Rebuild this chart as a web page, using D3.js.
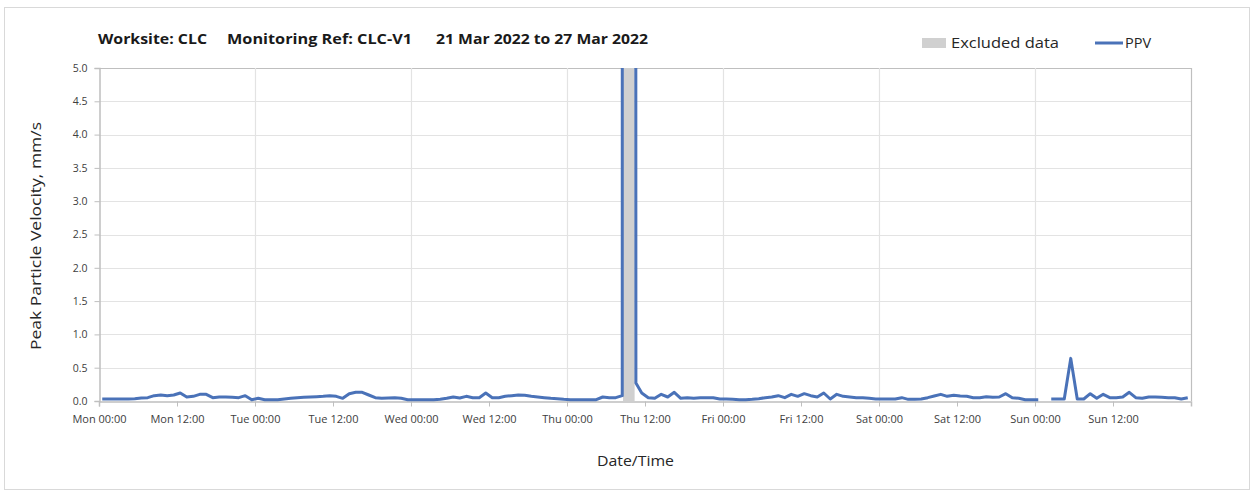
<!DOCTYPE html>
<html><head><meta charset="utf-8">
<script src="https://cdn.jsdelivr.net/npm/d3@7"></script>
<style>
html,body{margin:0;padding:0;background:#fff;}
svg{display:block;font-family:"Open Sans","DejaVu Sans",sans-serif;}
</style></head>
<body>
<svg id="chart" width="1253" height="495"></svg>
<script>
// ---- Data (hourly readings plotted at HH:30) ----
const dayNames = ["Mon","Tue","Wed","Thu","Fri","Sat","Sun"];
const monValues = [0.03,0.03,0.03,0.03,0.03,0.035,0.045,0.05,0.08,0.09,0.08,0.09,0.12,0.06,0.07,0.1,0.1,0.05,0.06,0.06,0.055,0.05,0.08,0.02];
const tueValues = [0.04,0.02,0.02,0.02,0.03,0.04,0.05,0.055,0.06,0.065,0.07,0.08,0.07,0.04,0.11,0.13,0.13,0.09,0.05,0.04,0.045,0.05,0.04,0.02];
const wedValues = [0.02,0.02,0.02,0.02,0.025,0.04,0.06,0.045,0.07,0.05,0.05,0.12,0.05,0.05,0.07,0.08,0.09,0.085,0.07,0.06,0.05,0.04,0.035,0.025];
const thuValues = [0.02,0.02,0.02,0.02,0.02,0.06,0.05,0.05,null,null,null,0.12,0.05,0.04,0.1,0.06,0.13,0.04,0.05,0.04,0.05,0.05,0.05,0.03];
const friValues = [0.03,0.025,0.02,0.02,0.025,0.035,0.05,0.06,0.08,0.05,0.1,0.07,0.11,0.08,0.06,0.12,0.03,0.1,0.07,0.06,0.05,0.05,0.04,0.03];
const satValues = [0.03,0.03,0.03,0.05,0.025,0.025,0.03,0.05,0.075,0.1,0.07,0.085,0.075,0.07,0.05,0.05,0.065,0.055,0.06,0.11,0.05,0.04,0.02,0.02];
const sunValues = [0.02,null,0.03,0.03,0.03,0.64,0.03,0.03,0.11,0.04,0.1,0.05,0.05,0.06,0.13,0.05,0.04,0.06,0.06,0.055,0.05,0.05,0.03,0.05];
// Thursday event (hours from Mon 00:00) - values off the chart
const eventTimes  = [80.5, 80.55, 82.45, 82.6];
const eventValues = [0.08, 60, 60, 0.27];
// Excluded data window (hours from Mon 00:00)
const excludedStart = 80.62;
const excludedEnd = 82.4;
// Axis ticks
const yTicks = [0,0.5,1,1.5,2,2.5,3,3.5,4,4.5,5];
const xTickHours = [0,12,24,36,48,60,72,84,96,108,120,132,144,156];
const xTickLabels = ["Mon 00:00","Mon 12:00","Tue 00:00","Tue 12:00","Wed 00:00","Wed 12:00","Thu 00:00","Thu 12:00","Fri 00:00","Fri 12:00","Sat 00:00","Sat 12:00","Sun 00:00","Sun 12:00"];
const dayGridHours = [24,48,72,96,120,144,168];

// ---- Build points ----
const days = [monValues,tueValues,wedValues,thuValues,friValues,satValues,sunValues];
let pts = [];
days.forEach((arr,d)=>arr.forEach((v,k)=>{
  const t = d*24+k+0.5;
  if (v===null && t>=eventTimes[0] && t<=eventTimes[eventTimes.length-1]) return;
  pts.push({t, v});
}));
eventTimes.forEach((t,i)=>pts.push({t, v:eventValues[i]}));
pts.sort((a,b)=>a.t-b.t);

// ---- Layout ----
const svg = d3.select("#chart");
const L=99, R=1191, T=68, B=401;
const x = d3.scaleLinear().domain([0,168]).range([L,R]);
const y = d3.scaleLinear().domain([0,5]).range([B,T]);

// outer border
svg.append("rect").attr("x",4.5).attr("y",7.5).attr("width",1245).attr("height",482)
  .attr("fill","#fff").attr("stroke","#d9d9d9").attr("stroke-width",1);

// horizontal gridlines
svg.append("g").selectAll("line").data(yTicks.slice(1)).join("line")
  .attr("x1",L).attr("x2",R).attr("y1",d=>Math.round(y(d))+0.5).attr("y2",d=>Math.round(y(d))+0.5)
  .attr("stroke",d=>d===5?"#bfbfbf":"#e3e3e3").attr("stroke-width",1.2);
// vertical day gridlines
svg.append("g").selectAll("line").data(dayGridHours).join("line")
  .attr("x1",d=>Math.round(x(d))+0.5).attr("x2",d=>Math.round(x(d))+0.5).attr("y1",T).attr("y2",B)
  .attr("stroke",d=>d===168?"#bfbfbf":"#e3e3e3").attr("stroke-width",1.2);

// excluded band
svg.append("rect").attr("x",x(excludedStart)).attr("y",T)
  .attr("width",x(excludedEnd)-x(excludedStart)).attr("height",B-T).attr("fill","#d0d0d0");

// clip
svg.append("defs").append("clipPath").attr("id","clip")
  .append("rect").attr("x",L).attr("y",T).attr("width",R-L).attr("height",B-T+3);

// y axis
const yAxis = d3.axisLeft(y).tickValues(yTicks).tickFormat(d3.format(".1f")).tickSize(5).tickPadding(7);
const gy = svg.append("g").attr("transform",`translate(${L+0.5},0)`).call(yAxis);
gy.select(".domain").attr("stroke","#bfbfbf").attr("stroke-width",1.5);
gy.selectAll(".tick line").attr("stroke","#bfbfbf");
gy.selectAll(".tick text").attr("fill","#404040").style("font-size","10.5px").style("font-family","'Open Sans',sans-serif");

// x axis
const xAxis = d3.axisBottom(x).tickValues(xTickHours).tickFormat((d,i)=>xTickLabels[i]).tickSize(5).tickPadding(9);
const gx = svg.append("g").attr("transform",`translate(0,${B+0.5})`).call(xAxis);
gx.select(".domain").attr("stroke","#bfbfbf").attr("stroke-width",1.5);
gx.selectAll(".tick line").attr("stroke","#bfbfbf");
gx.selectAll(".tick text").attr("fill","#404040").style("font-size","11px").style("font-family","'Open Sans',sans-serif");

// line
const line = d3.line().defined(d=>d.v!==null).x(d=>x(d.t)).y(d=>y(d.v));
svg.append("path").datum(pts).attr("clip-path","url(#clip)")
  .attr("d",line).attr("fill","none").attr("stroke","#4a72b8").attr("stroke-width",3)
  .attr("stroke-linejoin","round");

// title
const titleParts = [["Worksite: CLC",98,109],["Monitoring Ref: CLC-V1",227,185],["21 Mar 2022 to 27 Mar 2022",436,212]];
titleParts.forEach(([s,tx,w])=>{
  svg.append("text").attr("x",tx).attr("y",44).text(s)
    .attr("font-weight","bold").attr("font-size","14px").attr("fill","#1a1a1a")
    .attr("textLength",w).attr("lengthAdjust","spacingAndGlyphs");
});

// legend
svg.append("rect").attr("x",922).attr("y",38).attr("width",24).attr("height",10).attr("fill","#d0d0d0");
svg.append("text").attr("x",951).attr("y",48).text("Excluded data").attr("font-size","14.5px").attr("fill","#262626")
  .attr("textLength",108).attr("lengthAdjust","spacingAndGlyphs");
svg.append("line").attr("x1",1095).attr("x2",1123).attr("y1",43).attr("y2",43).attr("stroke","#4a72b8").attr("stroke-width",3);
svg.append("text").attr("x",1125).attr("y",48).text("PPV").attr("font-size","14.5px").attr("fill","#262626");

// axis titles
svg.append("text").attr("transform","translate(41,236) rotate(-90)").attr("text-anchor","middle")
  .text("Peak Particle Velocity, mm/s").attr("font-size","15px").attr("fill","#262626")
  .attr("textLength",228).attr("lengthAdjust","spacingAndGlyphs");
svg.append("text").attr("x",635.5).attr("y",466).attr("text-anchor","middle")
  .text("Date/Time").attr("font-size","15px").attr("fill","#262626")
  .attr("textLength",77).attr("lengthAdjust","spacingAndGlyphs");
</script>
</body></html>
